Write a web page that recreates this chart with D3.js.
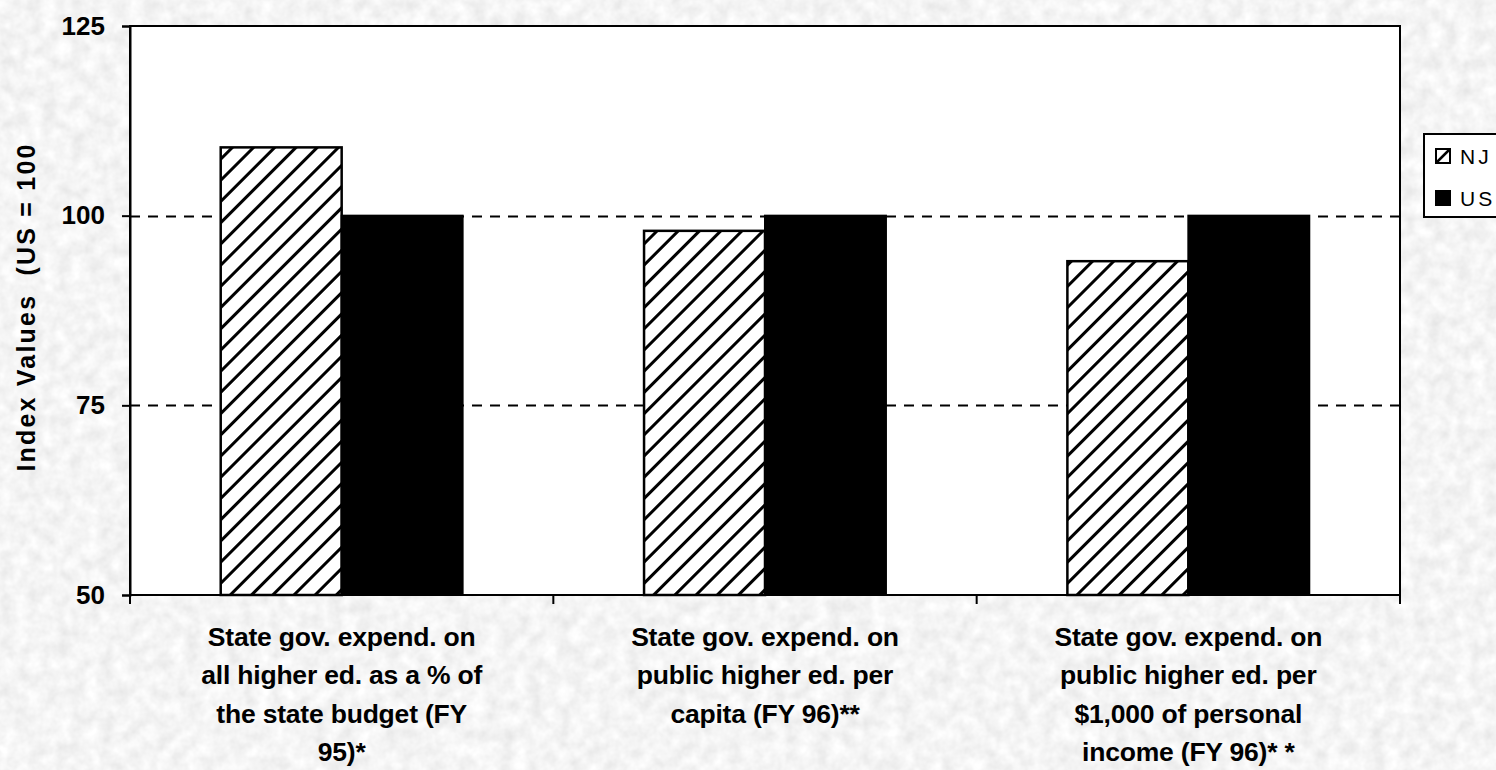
<!DOCTYPE html>
<html>
<head>
<meta charset="utf-8">
<script src="https://cdn.jsdelivr.net/npm/d3@7"></script>
<style>
  html, body { margin: 0; padding: 0; background: #e8e8e8; }
  svg { display: block; }
</style>
</head>
<body>
<div id="chart"></div>
<script>
// Index values (US = 100) for New Jersey vs. the US average
const categories = [
  ["State gov. expend. on", "all higher ed. as a % of", "the state budget (FY", "95)*"],
  ["State gov. expend. on", "public higher ed. per", "capita (FY 96)**"],
  ["State gov. expend. on", "public higher ed. per", "$1,000 of personal", "income (FY 96)* *"]
];
const seriesNames = ["NJ", "US"];
const njValues = [109, 98, 94];
const usValues = [100, 100, 100];
const yTicks = [50, 75, 100, 125];
const gridValues = [75, 100];

const W = 1496, H = 770;
const plot = { left: 130, right: 1400, top: 26, bottom: 595 };
const FONT = "Liberation Sans, Arial, sans-serif";

const svg = d3.select("#chart").append("svg")
  .attr("width", W).attr("height", H);

const defs = svg.append("defs");

// marbled paper texture for the page background
const tex = defs.append("filter").attr("id", "paper")
  .attr("x", 0).attr("y", 0).attr("width", "100%").attr("height", "100%");
tex.append("feTurbulence").attr("type", "fractalNoise")
  .attr("baseFrequency", "0.07").attr("numOctaves", 3).attr("seed", 4).attr("result", "n");
tex.append("feColorMatrix").attr("in", "n").attr("type", "matrix")
  .attr("values", "0.28 0 0 0 0.77  0.28 0 0 0 0.77  0.28 0 0 0 0.77  0 0 0 0 1");

svg.append("rect").attr("width", W).attr("height", H).attr("fill", "#e8e8e8")
  .attr("filter", "url(#paper)");

// diagonal hatch for the NJ series
const hatch = defs.append("pattern").attr("id", "hatch")
  .attr("patternUnits", "userSpaceOnUse")
  .attr("width", 15).attr("height", 15)
  .attr("patternTransform", "rotate(45)");
hatch.append("rect").attr("width", 15).attr("height", 15).attr("fill", "#fff");
hatch.append("line").attr("x1", 7.5).attr("y1", 0).attr("x2", 7.5).attr("y2", 15)
  .attr("stroke", "#000").attr("stroke-width", 3);

const x0 = d3.scaleBand().domain(d3.range(categories.length))
  .range([plot.left, plot.right]).paddingInner(0).paddingOuter(0);
// gap between groups is 150% of a bar's width
const barW = x0.bandwidth() / 3.5;
const x1 = d3.scaleBand().domain(seriesNames)
  .range([0, barW * 2]);

const y = d3.scaleLinear().domain([50, 125]).range([plot.bottom, plot.top]);

// plot area
svg.append("rect")
  .attr("x", plot.left).attr("y", plot.top)
  .attr("width", plot.right - plot.left).attr("height", plot.bottom - plot.top)
  .attr("fill", "#fff").attr("stroke", "#000").attr("stroke-width", 2);

// dashed gridlines
svg.append("g").selectAll("line").data(gridValues).join("line")
  .attr("x1", plot.left).attr("x2", plot.right)
  .attr("y1", d => Math.round(y(d)) + 0.5).attr("y2", d => Math.round(y(d)) + 0.5)
  .attr("stroke", "#000").attr("stroke-width", 2).attr("stroke-dasharray", "10,8");

// bars
const groups = svg.append("g").selectAll("g").data(categories).join("g")
  .attr("transform", (d, i) => `translate(${x0(i) + (x0.bandwidth() - barW * 2) / 2},0)`);

groups.append("rect")
  .attr("x", 0).attr("width", x1.bandwidth())
  .attr("y", (d, i) => y(njValues[i])).attr("height", (d, i) => y(50) - y(njValues[i]))
  .attr("fill", "url(#hatch)").attr("stroke", "#000").attr("stroke-width", 2.5);
groups.append("rect")
  .attr("x", x1("US")).attr("width", x1.bandwidth())
  .attr("y", (d, i) => y(usValues[i])).attr("height", (d, i) => y(50) - y(usValues[i]))
  .attr("fill", "#000").attr("stroke", "#000").attr("stroke-width", 2);

// y axis
const yAxis = svg.append("g").attr("transform", `translate(${plot.left},0)`)
  .call(d3.axisLeft(y).tickValues(yTicks).tickSize(8).tickPadding(17));
yAxis.select(".domain").attr("stroke-width", 2);
yAxis.selectAll(".tick line").attr("stroke-width", 2);
yAxis.selectAll(".tick text")
  .attr("font-family", FONT)
  .attr("font-weight", "bold").attr("font-size", 26).attr("fill", "#000");

// x axis with ticks on category boundaries
const bounds = d3.range(categories.length + 1).map(i => plot.left + i * x0.bandwidth());
svg.append("line").attr("x1", plot.left).attr("x2", plot.right)
  .attr("y1", plot.bottom).attr("y2", plot.bottom)
  .attr("stroke", "#000").attr("stroke-width", 2);
svg.append("g").selectAll("line").data(bounds).join("line")
  .attr("x1", d => d).attr("x2", d => d)
  .attr("y1", plot.bottom).attr("y2", plot.bottom + 9)
  .attr("stroke", "#000").attr("stroke-width", 2);

// category labels
const catText = svg.append("g").selectAll("text").data(categories).join("text")
  .attr("text-anchor", "middle")
  .attr("font-family", FONT)
  .attr("font-weight", "bold").attr("font-size", 26.5)
  .attr("letter-spacing", "-0.2").attr("fill", "#000");
catText.each(function (lines, i) {
  const cx = x0(i) + x0.bandwidth() / 2;
  d3.select(this).selectAll("tspan").data(lines).join("tspan")
    .attr("x", cx).attr("y", (d, j) => 646 + j * 38.3).text(d => d);
});

// y axis title
svg.append("text")
  .attr("transform", `translate(35,307) rotate(-90)`)
  .attr("text-anchor", "middle")
  .attr("font-family", FONT)
  .attr("font-weight", "bold").attr("font-size", 25).attr("fill", "#000")
  .attr("letter-spacing", "2.2")
  .attr("xml:space", "preserve")
  .text("Index Values  (US = 100");

// legend
const legend = svg.append("g");
legend.append("rect").attr("x", 1424).attr("y", 134).attr("width", 90).attr("height", 83)
  .attr("fill", "#fff").attr("stroke", "#000").attr("stroke-width", 2);
const legendItems = legend.selectAll("g").data(seriesNames).join("g")
  .attr("transform", (d, i) => `translate(1436,${149 + i * 42})`);
legendItems.append("rect").attr("width", 14).attr("height", 14)
  .attr("fill", (d, i) => i === 0 ? "#fff" : "#000")
  .attr("stroke", "#000").attr("stroke-width", 2);
legendItems.filter((d, i) => i === 0).append("line")
  .attr("x1", 0).attr("y1", 14).attr("x2", 14).attr("y2", 0)
  .attr("stroke", "#000").attr("stroke-width", 2.5);
legendItems.append("text").attr("x", 24).attr("y", 15)
  .attr("font-family", FONT)
  .attr("font-size", 21).attr("letter-spacing", "3").attr("fill", "#000")
  .text(d => d);
</script>
</body>
</html>
